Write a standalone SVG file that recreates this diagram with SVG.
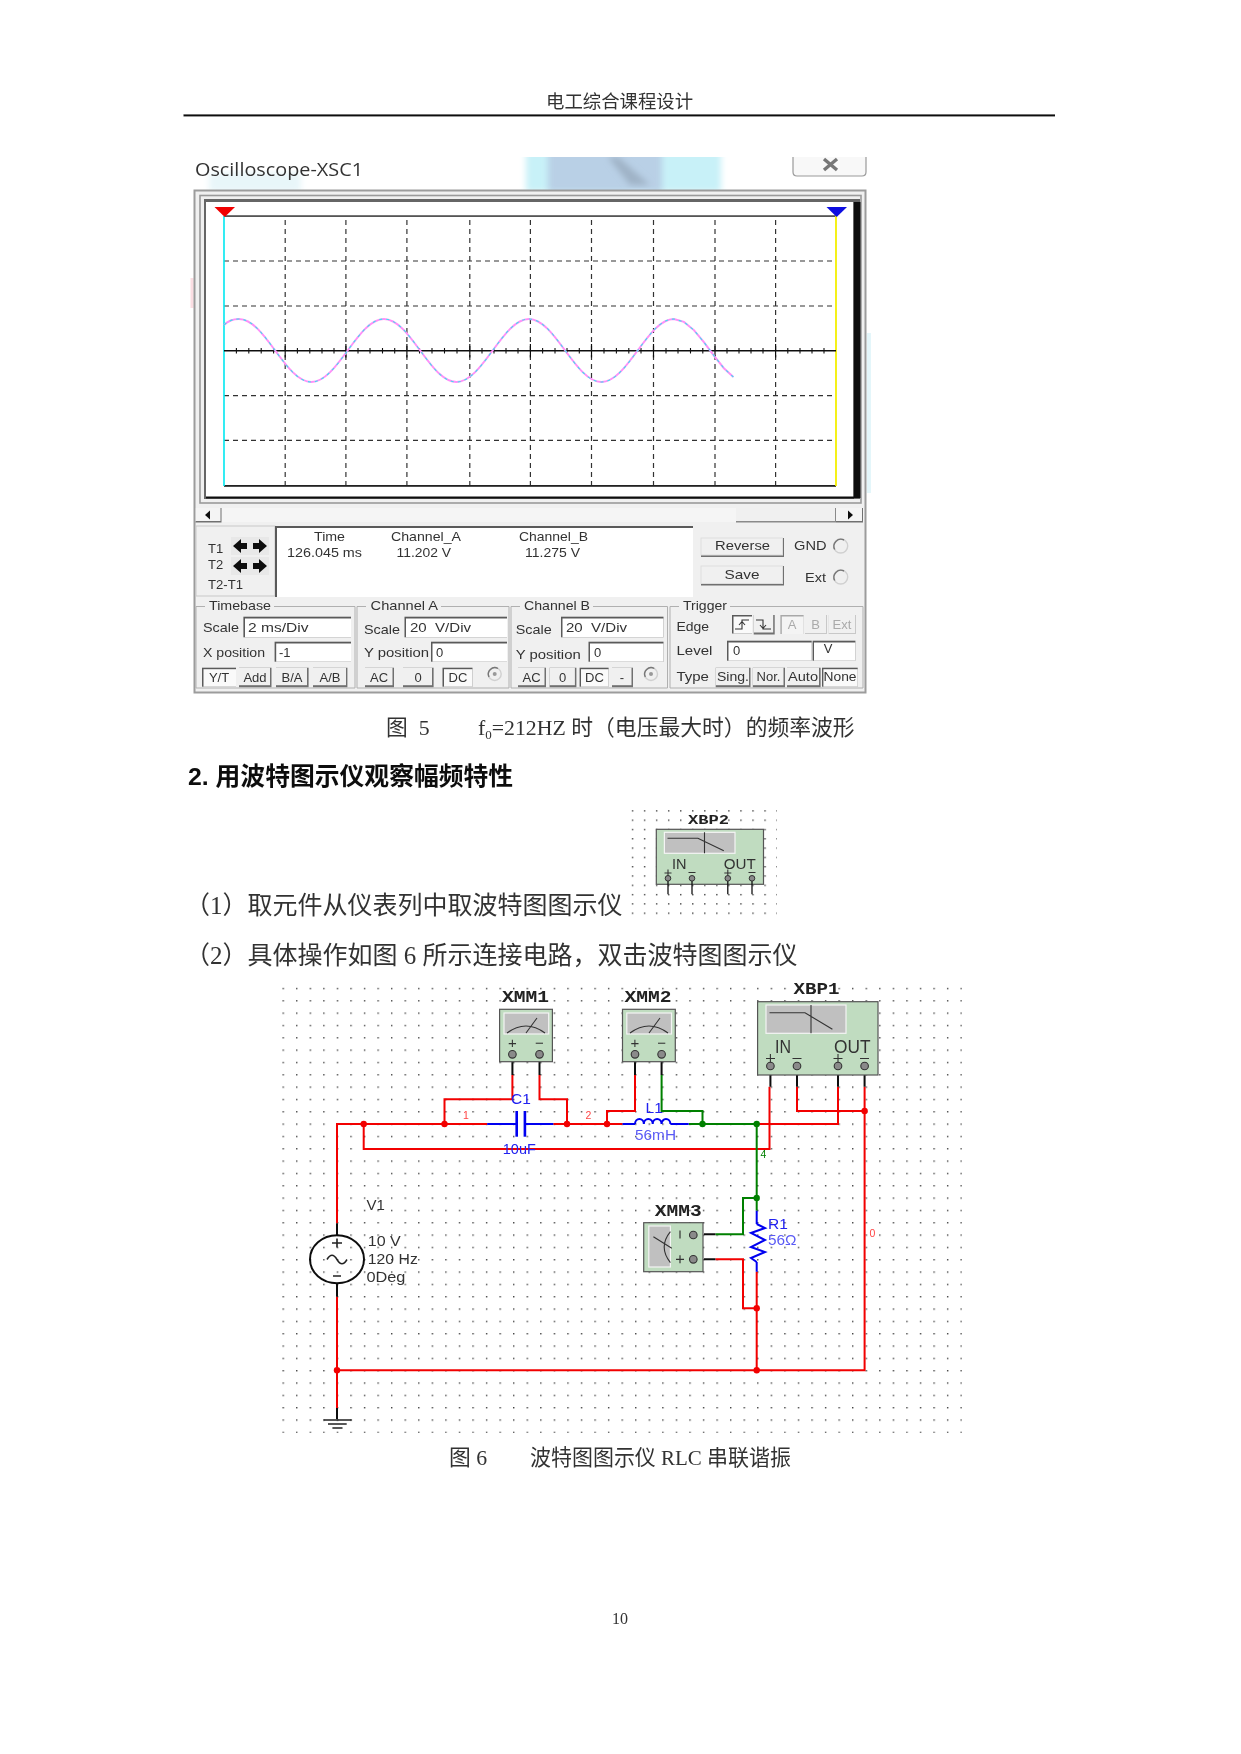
<svg xmlns="http://www.w3.org/2000/svg" xmlns:xlink="http://www.w3.org/1999/xlink" width="1241" height="1754" viewBox="0 0 1241 1754">
<style>
text{font-family:"Liberation Sans","Noto Sans CJK SC",sans-serif;fill:#2a2a2a}
.doc{font-family:"Liberation Serif","Noto Sans CJK SC",serif;fill:#333;font-size:21.8px}
.body{font-size:25px}
.head{font-family:"Liberation Sans","Noto Sans CJK SC",sans-serif;font-size:24.8px;font-weight:700;fill:#111}
.ui{font-size:13px;fill:#333}
.mid{text-anchor:middle}
.dim{fill:#aaa}
.ref{font-family:"Liberation Mono",monospace;font-weight:700;font-size:16px;fill:#222}
.lbl{font-size:15px;fill:#333}
.blue{font-size:15.5px;fill:#2020f0}
.lblue{font-size:15px;fill:#5a5af5}
.net{font-size:10.5px}
.shadow{fill:#707070}
.face{fill:#f0f0f0}
.sunk{fill:#5a5a5a}
.white{fill:#fff}
.group{fill:none;stroke:#b0b0b0;stroke-width:1}
.grid{stroke:#333;stroke-width:1.2;stroke-dasharray:5 4;fill:none}
.rw{fill:none;stroke:#f20000;stroke-width:2}
.gw{fill:none;stroke:#008000;stroke-width:2}
.bw{fill:none;stroke:#0000f0;stroke-width:2}
.kw{fill:none;stroke:#111;stroke-width:2}
.rj{fill:#f20000}
.gj{fill:#008000}
.inst{fill:#c0dcc0;stroke:#555;stroke-width:1.2}
.scr{fill:#c0c0c0;stroke:#f4f4f4;stroke-width:1.2}
.thin{fill:none;stroke:#333;stroke-width:1.1}
.radio{fill:none;stroke:#d0d0d0;stroke-width:1.4}
.arc{fill:none;stroke:#777;stroke-width:1.4}
</style>
<defs>
<filter id="soft" x="0" y="0" width="1" height="1"><feGaussianBlur stdDeviation="0.4"/></filter>
<filter id="haze" x="-10%" y="-10%" width="120%" height="120%"><feGaussianBlur stdDeviation="3"/></filter>
<clipPath id="bandclip"><rect x="190" y="157" width="680" height="33"/></clipPath>
<pattern id="dots" patternUnits="userSpaceOnUse" x="282.5" y="987.8" width="13.56" height="12.33"><rect width="1.4" height="1.4" fill="#444"/></pattern>
<pattern id="dots2" patternUnits="userSpaceOnUse" x="631.8" y="810.2" width="12.05" height="9.3"><rect width="1.4" height="1.4" fill="#444"/></pattern>
<g id="term"><circle r="3.8" fill="#8a8a8a" stroke="#333" stroke-width="1.1"/></g>
<g id="arrows"><path d="M2 9 10 2V6H16V12H10V16Z M36 9 28 2V6H22V12H28V16Z" fill="#111"/></g>
</defs>
<rect width="1241" height="1754" fill="#fff"/>
<g id="page" filter="url(#soft)">

<g id="header">
<text class="doc" x="546" y="108" style="font-size:18.4px">电工综合课程设计</text>
<rect x="183.500" y="114.400" width="871.500" height="2" fill="#111"/>
</g>

<g id="oscilloscope">
<g clip-path="url(#bandclip)">
<rect x="526" y="150" width="195" height="42" fill="#c8f1f8" filter="url(#haze)"/>
<rect x="548" y="150" width="114" height="42" fill="#b9d0e6" filter="url(#haze)"/>
<path d="M608 157 630 185 650 185 618 157Z" fill="#9fb2c6" filter="url(#haze)"/>
<rect x="209" y="172" width="92" height="20" fill="#e8f6f9" filter="url(#haze)"/>
</g>
<rect x="867" y="333" width="4" height="160" fill="#e4f6fa"/>
<rect x="190.500" y="278" width="3" height="30" fill="#fbdde2"/>
<text x="195" y="176" style="font-family:'Open Sans',sans-serif;font-size:18.5px;fill:#333" textLength="168" lengthAdjust="spacingAndGlyphs">Oscilloscope-XSC1</text>
<path d="M793 157V172Q793 176 797 176H862Q866 176 866 172V157" fill="#f8f8f8" stroke="#9a9a9a" stroke-width="1.200"/>
<path d="M824 159 837 170M837 159 824 170" stroke="#777" stroke-width="3.400" fill="none"/>

<rect x="194.500" y="190.500" width="671" height="502" fill="#f0f0f0" stroke="#9c9c9c" stroke-width="2"/>
<rect x="200" y="195.500" width="661" height="307.500" fill="#f0f0f0" stroke="#9a9a9a" stroke-width="1.600"/>
<rect x="204" y="199" width="656" height="300" fill="#666"/>
<rect x="206" y="202" width="647" height="295" fill="#fff"/>
<rect x="854" y="202" width="6.500" height="296" fill="#111"/>
<rect x="206" y="496.500" width="648" height="2" fill="#111"/>

<g id="plot">
<path class="grid" d="M285.200 220V486M345.900 220V486M406.900 220V486M469.800 220V486M530.400 220V486M591.500 220V486M653.500 220V486M715 220V486M775.600 220V486"/>
<path class="grid" d="M224 261H836M224 306H836M224 395.700H836M224 440.300H836"/>
<rect x="224" y="215.200" width="612" height="1.800" fill="#555"/>
<rect x="224" y="485" width="612" height="1.800" fill="#222"/>
<path d="M224 216V486" stroke="#00e8f0" stroke-width="1.600" fill="none"/>
<path d="M836 216V486" stroke="#f4f000" stroke-width="1.800" fill="none"/>
<path d="M214.500 207H235L224.700 217Z" fill="#f00000"/>
<path d="M826.500 207H847L836.700 217Z" fill="#1010e0"/>
<path d="M224 350.700H836" stroke="#111" stroke-width="1.500" fill="none"/>
<path d="M236.400 348V353.400M248.800 348V353.400M261.200 348V353.400M273.600 348V353.400M297.400 348V353.400M309.800 348V353.400M322 348V353.400M334 348V353.400M358 348V353.400M370 348V353.400M382.500 348V353.400M394.700 348V353.400M419.500 348V353.400M432 348V353.400M444.500 348V353.400M457 348V353.400M482 348V353.400M494 348V353.400M506 348V353.400M518 348V353.400M542.600 348V353.400M555 348V353.400M567 348V353.400M579.300 348V353.400M604 348V353.400M616.400 348V353.400M628.800 348V353.400M641 348V353.400M666 348V353.400M678 348V353.400M690.500 348V353.400M702.800 348V353.400M727 348V353.400M739 348V353.400M751 348V353.400M763 348V353.400M787.800 348V353.400M800 348V353.400M812 348V353.400M824 348V353.400" stroke="#111" stroke-width="1.100" fill="none"/>
<path d="M285.200 344V357.400M345.900 344V357.400M406.900 344V357.400M469.800 344V357.400M530.400 344V357.400M591.500 344V357.400M653.500 344V357.400M715 344V357.400M775.600 344V357.400" stroke="#111" stroke-width="1.200" fill="none"/>
<path id="wave" d="M224 325C228 321 233 319 238.900 319C265.300 319 285 382 311.400 382C337.800 382 357.500 319 383.900 319C410.300 319 430 382 456.400 382C482.800 382 502.500 319 528.900 319C555.300 319 575 382 601.400 382C627.800 382 647.500 319 673.900 319L683.900 321.900 693.900 330.100 703.900 342.100 713.900 355.600 723.900 368.200 733.400 377" fill="none" stroke="#ff90f8" stroke-width="2"/>
<path d="M224 325C228 321 233 319 238.900 319C265.300 319 285 382 311.400 382C337.800 382 357.500 319 383.900 319C410.300 319 430 382 456.400 382C482.800 382 502.500 319 528.900 319C555.300 319 575 382 601.400 382C627.800 382 647.500 319 673.900 319L683.900 321.900 693.900 330.100 703.900 342.100 713.900 355.600 723.900 368.200 733.400 377" fill="none" stroke="#40e0f0" stroke-width="1.100" stroke-dasharray="3 4"/>
</g>

<g id="scrollbar">
<rect x="195.500" y="508" width="668" height="14" fill="#f5f5f5"/>
<rect x="195.500" y="508" width="26" height="14.500" class="shadow"/><rect x="195.500" y="508" width="25" height="13" fill="#f4f4f4"/>
<path d="M205 515 210 510.500V519.500Z" fill="#111"/>
<rect x="736" y="508" width="100" height="14.500" fill="#8a8a8a"/><rect x="736" y="508" width="99" height="13" fill="#f0f0f0"/>
<rect x="836" y="508" width="27" height="14.500" class="shadow"/><rect x="836" y="508" width="26" height="13" fill="#f4f4f4"/>
<path d="M853 515 848 510.500V519.500Z" fill="#111"/>
</g>

<g id="cursors">
<rect x="196" y="526" width="79" height="70" fill="none" stroke="#c8c8c8"/>
<rect x="275" y="526" width="418" height="71" class="sunk"/><rect x="277" y="528" width="416" height="69" class="white"/>
<text class="ui" x="208" y="552.500">T1</text><text class="ui" x="208" y="569">T2</text><text class="ui" x="208" y="589" textLength="35" lengthAdjust="spacingAndGlyphs">T2-T1</text>
<rect x="231" y="537" width="38" height="18" fill="#e8e8e8"/><use xlink:href="#arrows" href="#arrows" x="231" y="537"/>
<rect x="231" y="557" width="38" height="18" fill="#e8e8e8"/><use xlink:href="#arrows" href="#arrows" x="231" y="557"/>
<text class="ui" x="314" y="541" textLength="31" lengthAdjust="spacingAndGlyphs">Time</text>
<text class="ui" x="391" y="541" textLength="70" lengthAdjust="spacingAndGlyphs">Channel_A</text>
<text class="ui" x="519" y="541" textLength="69" lengthAdjust="spacingAndGlyphs">Channel_B</text>
<text class="ui" x="287" y="557" textLength="75" lengthAdjust="spacingAndGlyphs">126.045 ms</text>
<text class="ui" x="396.500" y="557" textLength="54.500" lengthAdjust="spacingAndGlyphs">11.202 V</text>
<text class="ui" x="525" y="557" textLength="55" lengthAdjust="spacingAndGlyphs">11.275 V</text>
<rect x="701" y="538" width="83" height="19" class="shadow"/><rect x="701" y="538" width="81.500" height="17" class="face" stroke="#ddd"/>
<text class="ui" x="715" y="550" textLength="55" lengthAdjust="spacingAndGlyphs">Reverse</text>
<rect x="701" y="566" width="83" height="19.500" class="shadow"/><rect x="701" y="566" width="81.500" height="17.500" class="face" stroke="#ddd"/>
<text class="ui" x="724.600" y="578.500" textLength="35" lengthAdjust="spacingAndGlyphs">Save</text>
<text class="ui" x="794" y="550" textLength="32.500" lengthAdjust="spacingAndGlyphs">GND</text>
<circle class="radio" cx="840.700" cy="546" r="7"/><path class="arc" d="M834.700 549.500A7 7 0 0 1 844 540"/>
<text class="ui" x="805" y="581.500" textLength="21" lengthAdjust="spacingAndGlyphs">Ext</text>
<circle class="radio" cx="840.700" cy="577" r="7"/><path class="arc" d="M834.700 580.500A7 7 0 0 1 844 571"/>
</g>

<g id="timebase">
<path class="group" d="M205 606.500H196V688H355V606.500H274"/>
<text class="ui" x="209" y="610.400" textLength="62" lengthAdjust="spacingAndGlyphs">Timebase</text>
<text class="ui" x="203" y="631.500" textLength="36" lengthAdjust="spacingAndGlyphs">Scale</text>
<rect x="243.400" y="616.700" width="107.600" height="20.600" class="sunk"/><rect x="245" y="618.500" width="106" height="18.800" class="white"/>
<text class="ui" x="248" y="631.500" textLength="60.500" lengthAdjust="spacingAndGlyphs">2 ms/Div</text>
<text class="ui" x="203" y="656.500" textLength="62" lengthAdjust="spacingAndGlyphs">X position</text>
<rect x="274.600" y="641.700" width="76.400" height="20" class="sunk"/><rect x="276.200" y="643.500" width="74.800" height="18.200" class="white"/>
<text class="ui" x="279" y="656.500">-1</text>
<rect x="202" y="667.700" width="34" height="19" class="sunk"/><rect x="203.500" y="669.200" width="32.500" height="17.500" fill="#fafafa"/>
<text class="ui mid" x="219" y="681.500">Y/T</text>
<rect x="239" y="667.700" width="32.500" height="19.500" class="shadow"/><rect x="239" y="667.700" width="31" height="17.500" class="face"/>
<text class="ui mid" x="255" y="681.500">Add</text>
<rect x="276" y="667.700" width="32.600" height="19.500" class="shadow"/><rect x="276" y="667.700" width="31" height="17.500" class="face"/>
<text class="ui mid" x="292" y="681.500">B/A</text>
<rect x="313" y="667.700" width="34.400" height="19.500" class="shadow"/><rect x="313" y="667.700" width="33" height="17.500" class="face"/>
<text class="ui mid" x="330" y="681.500">A/B</text>
</g>

<g id="channel-a">
<path class="group" d="M366 606.500H357V688H509V606.500H441"/>
<text class="ui" x="370.600" y="610.400" textLength="67.500" lengthAdjust="spacingAndGlyphs">Channel A</text>
<text class="ui" x="364" y="634" textLength="36" lengthAdjust="spacingAndGlyphs">Scale</text>
<rect x="404.500" y="616.700" width="102.500" height="20.600" class="sunk"/><rect x="406" y="618.500" width="101" height="18.800" class="white"/>
<text class="ui" x="410" y="631.500" textLength="61" lengthAdjust="spacingAndGlyphs" xml:space="preserve">20  V/Div</text>
<text class="ui" x="364" y="656.500" textLength="65" lengthAdjust="spacingAndGlyphs">Y position</text>
<rect x="431" y="641.700" width="76" height="20" class="sunk"/><rect x="432.500" y="643.500" width="74.500" height="18.200" class="white"/>
<text class="ui" x="436" y="656.500">0</text>
<rect x="365" y="667.700" width="29" height="19.500" class="shadow"/><rect x="365" y="667.700" width="27.500" height="17.500" class="face"/>
<text class="ui mid" x="379" y="681.500">AC</text>
<rect x="403" y="667.700" width="30.600" height="19.500" class="shadow"/><rect x="403" y="667.700" width="29" height="17.500" class="face"/>
<text class="ui mid" x="418" y="681.500">0</text>
<rect x="442.500" y="667.700" width="30" height="19" class="sunk"/><rect x="444" y="669.200" width="28.500" height="17.500" fill="#fafafa"/>
<text class="ui mid" x="458" y="681.500">DC</text>
<circle class="radio" cx="494.700" cy="674" r="6.500"/><path class="arc" d="M489 677A6.500 6.500 0 0 1 498 668.500"/><circle cx="494.700" cy="674" r="2" fill="#999"/>
</g>

<g id="channel-b">
<path class="group" d="M520 606.500H511V688H667.500V606.500H593"/>
<text class="ui" x="524" y="610.400" textLength="66" lengthAdjust="spacingAndGlyphs">Channel B</text>
<text class="ui" x="515.700" y="634" textLength="36" lengthAdjust="spacingAndGlyphs">Scale</text>
<rect x="561" y="616.700" width="102.500" height="20.600" class="sunk"/><rect x="562.500" y="618.500" width="101" height="18.800" class="white"/>
<text class="ui" x="566" y="631.500" textLength="61" lengthAdjust="spacingAndGlyphs" xml:space="preserve">20  V/Div</text>
<text class="ui" x="515.700" y="659.300" textLength="65" lengthAdjust="spacingAndGlyphs">Y position</text>
<rect x="588.500" y="641.700" width="75" height="20" class="sunk"/><rect x="590" y="643.500" width="73.500" height="18.200" class="white"/>
<text class="ui" x="594" y="656.500">0</text>
<rect x="518" y="667.700" width="28" height="19.500" class="shadow"/><rect x="518" y="667.700" width="26.500" height="17.500" class="face"/>
<text class="ui mid" x="531.500" y="681.500">AC</text>
<rect x="549.600" y="667.700" width="26.800" height="19.500" class="shadow"/><rect x="549.600" y="667.700" width="25.300" height="17.500" class="face"/>
<text class="ui mid" x="562.500" y="681.500">0</text>
<rect x="579.600" y="667.700" width="29" height="19" class="sunk"/><rect x="581" y="669.200" width="27.600" height="17.500" fill="#fafafa"/>
<text class="ui mid" x="594.500" y="681.500">DC</text>
<rect x="612" y="667.700" width="21" height="19.500" class="shadow"/><rect x="612" y="667.700" width="19.500" height="17.500" class="face"/>
<text class="ui mid" x="622" y="681.500">-</text>
<circle class="radio" cx="651" cy="674" r="6.500"/><path class="arc" d="M645.300 677A6.500 6.500 0 0 1 654.300 668.500"/><circle cx="651" cy="674" r="2" fill="#999"/>
</g>

<g id="trigger">
<path class="group" d="M679 606.500H670V688H863V606.500H730"/>
<text class="ui" x="683" y="610.400" textLength="44" lengthAdjust="spacingAndGlyphs">Trigger</text>
<text class="ui" x="676.400" y="630.700" textLength="32.600" lengthAdjust="spacingAndGlyphs">Edge</text>
<rect x="732" y="615" width="20" height="18.500" class="sunk"/><rect x="733.500" y="616.500" width="18.500" height="17" fill="#fafafa"/>
<path d="M735 629H742V620H749M739 625 742 621.500 745 625" class="thin" stroke-width="1.500"/>
<rect x="753.700" y="615" width="21" height="19.500" class="shadow"/><rect x="753.700" y="615" width="19.500" height="17.500" class="face"/>
<path d="M756 620H763V629H771M760 625 763 628.500 766 625" class="thin"/>
<rect x="780.400" y="615" width="23.200" height="19" fill="#a8a8a8"/><rect x="781.800" y="616.500" width="21.800" height="17.500" fill="#f4f4f4"/>
<text class="ui mid dim" x="792" y="629">A</text>
<rect x="805" y="615" width="22" height="19" fill="#c8c8c8"/><rect x="805" y="615" width="21" height="18" class="face"/>
<text class="ui mid dim" x="815.500" y="629">B</text>
<rect x="828.600" y="615" width="27.400" height="19" fill="#c8c8c8"/><rect x="828.600" y="615" width="26.400" height="18" class="face"/>
<text class="ui mid dim" x="842" y="629">Ext</text>
<text class="ui" x="676.400" y="655" textLength="36" lengthAdjust="spacingAndGlyphs">Level</text>
<rect x="727" y="640.700" width="84.700" height="20" class="sunk"/><rect x="728.500" y="642.500" width="83.200" height="18.200" class="white"/>
<text class="ui" x="733" y="655">0</text>
<rect x="812.600" y="640.700" width="42.800" height="20" class="sunk"/><rect x="814" y="642.500" width="41.400" height="18.200" class="white"/>
<text class="ui mid" x="828" y="653">V</text>
<text class="ui" x="676.400" y="680.700" textLength="32.600" lengthAdjust="spacingAndGlyphs">Type</text>
<rect x="715.700" y="667.700" width="34.800" height="19.500" class="shadow"/><rect x="715.700" y="667.700" width="33.300" height="17.500" class="face"/>
<text class="ui mid" x="733" y="681" textLength="32" lengthAdjust="spacingAndGlyphs">Sing.</text>
<rect x="752.800" y="667.700" width="32.200" height="19.500" class="shadow"/><rect x="752.800" y="667.700" width="30.700" height="17.500" class="face"/>
<text class="ui mid" x="768.500" y="681">Nor.</text>
<rect x="787" y="667.700" width="33.600" height="19.500" class="shadow"/><rect x="787" y="667.700" width="32" height="17.500" class="face"/>
<text class="ui mid" x="803" y="681" textLength="30" lengthAdjust="spacingAndGlyphs">Auto</text>
<rect x="822" y="667.700" width="35.700" height="19" class="sunk"/><rect x="823.400" y="669.200" width="34.300" height="17.500" fill="#fafafa"/>
<text class="ui mid" x="840" y="681" textLength="33" lengthAdjust="spacingAndGlyphs">None</text>
</g>
</g>

<g id="caption-5">
<text class="doc" x="386" y="734.500" xml:space="preserve">图  5</text>
<text class="doc" x="478" y="734.500">f<tspan font-size="13" dy="4">0</tspan><tspan dy="-4">=212HZ 时（电压最大时）的频率波形</tspan></text>
</g>

<g id="section-text">
<text class="head" x="188" y="785">2. 用波特图示仪观察幅频特性</text>
<text class="doc body" x="185" y="914">（1）取元件从仪表列中取波特图图示仪</text>
<text class="doc body" x="185" y="964">（2）具体操作如图 6 所示连接电路，双击波特图图示仪</text>
</g>

<g id="XBP2">
<rect x="631" y="809.500" width="146" height="106" fill="url(#dots2)"/>
<text class="ref" x="688" y="824" style="font-size:13.500px" textLength="41" lengthAdjust="spacingAndGlyphs">XBP2</text>
<rect x="656.300" y="829.300" width="107.200" height="55" class="inst"/>
<rect class="scr" x="664.400" y="832.300" width="70.600" height="21"/>
<path class="thin" d="M667.500 838.300H697.900L723.800 850.700M704.500 832.300V853.300"/>
<text class="lbl" x="672" y="869.300" style="font-size:14.500px">IN</text>
<text class="lbl" x="723.800" y="869.300" style="font-size:14.500px" textLength="32" lengthAdjust="spacingAndGlyphs">OUT</text>
<path d="M668 878V894.300M692 878V894.300M727.800 878V894.300M752 878V894.300" stroke="#111" stroke-width="1.300" fill="none"/>
<path d="M664.500 873H671.500M668 869.500V876.500M688.500 872.500H695.500M724.300 873H731.300M727.800 869.500V876.500M748.500 872.500H755.500" stroke="#333" stroke-width="1.100" fill="none"/>
<circle cx="668" cy="878.300" r="2.800" fill="#8a8a8a" stroke="#333"/><circle cx="692" cy="878.300" r="2.800" fill="#8a8a8a" stroke="#333"/><circle cx="727.800" cy="878.300" r="2.800" fill="#8a8a8a" stroke="#333"/><circle cx="752" cy="878.300" r="2.800" fill="#8a8a8a" stroke="#333"/>
</g>

<g id="circuit-grid"><rect x="282" y="987" width="680" height="446" fill="url(#dots)"/></g>

<g id="connectors">
<path class="rw" d="M337 1223.300V1124H487.200M553.300 1124H622.600M444.500 1124V1099.300H512.400V1075M567 1124V1099.300H539.500V1075M607 1124V1111H635V1075M363.700 1124V1149H769.500V1086.700M756.700 1124H838V1086.700M797 1086.700V1111H864.600M864.600 1086.700V1370.300H337M337 1296.700V1408M756.700 1271.700V1370.300M715.400 1259.300H743V1308.300H756.700"/>
<path class="gw" d="M688.700 1124H756.700V1210.700M661.600 1075V1111H702.500V1124M756.700 1198H743V1234.300H715.400"/>
<path class="bw" d="M487.200 1124H516.600M524.800 1124H553.300M622.600 1124H635M670.400 1124H688.700M756.700 1210.700V1224M756.700 1262V1271.700"/>
<path class="kw" d="M512.400 1054V1075M539.500 1054V1075M635 1054V1075M661.600 1054V1075M770.400 1066V1086.700M797 1066V1086.700M838 1066V1086.700M864.600 1066V1086.700M704 1234.300H715.400M704 1259.300H715.400M337 1223.300V1236M337 1283V1296.700M337 1408V1419"/>
<g id="junctions">
<circle class="rj" cx="363.700" cy="1124" r="3.200"/><circle class="rj" cx="444.500" cy="1124" r="3.200"/><circle class="rj" cx="567" cy="1124" r="3.200"/><circle class="rj" cx="607" cy="1124" r="3.200"/><circle class="gj" cx="702.500" cy="1124" r="3.200"/><circle class="gj" cx="756.700" cy="1124" r="3.200"/><circle class="gj" cx="756.700" cy="1198" r="3.200"/><circle class="rj" cx="864.600" cy="1111" r="3.200"/><circle class="rj" cx="756.700" cy="1308.300" r="3.200"/><circle class="rj" cx="756.700" cy="1370.300" r="3.200"/><circle class="rj" cx="337" cy="1370.300" r="3.200"/>
</g>
<text class="net" x="463" y="1118.500" style="fill:#f44">1</text>
<text class="net" x="585.500" y="1118.500" style="fill:#f44">2</text>
<text class="net" x="760.500" y="1157.500" style="fill:#008000">4</text>
<text class="net" x="869.500" y="1237" style="fill:#f44">0</text>
</g>

<g id="XMM1">
<text class="ref" x="502" y="1002.300" textLength="47" lengthAdjust="spacingAndGlyphs">XMM1</text>
<rect class="inst" x="499.600" y="1009.300" width="52.800" height="52.400"/>
<rect class="scr" x="504" y="1013" width="44.700" height="21"/>
<path class="thin" d="M507 1033Q526 1019 545 1033M526 1033 537 1018"/>
<text class="lbl mid" x="512.400" y="1047.500">+</text><text class="lbl mid" x="539.500" y="1047.500">−</text>
<use xlink:href="#term" href="#term" x="512.400" y="1054.300"/><use xlink:href="#term" href="#term" x="539.500" y="1054.300"/>
</g>

<g id="XMM2">
<text class="ref" x="624.500" y="1002.300" textLength="47" lengthAdjust="spacingAndGlyphs">XMM2</text>
<rect class="inst" x="622.500" y="1009.300" width="52.800" height="52.400"/>
<rect class="scr" x="626.800" y="1013" width="44.700" height="21"/>
<path class="thin" d="M630 1033Q649 1019 668 1033M649 1033 660 1018"/>
<text class="lbl mid" x="635" y="1047.500">+</text><text class="lbl mid" x="661.600" y="1047.500">−</text>
<use xlink:href="#term" href="#term" x="635" y="1054.300"/><use xlink:href="#term" href="#term" x="661.600" y="1054.300"/>
</g>

<g id="XBP1">
<text class="ref" x="793.400" y="994" textLength="46" lengthAdjust="spacingAndGlyphs">XBP1</text>
<rect class="inst" x="757.600" y="1001.700" width="120.400" height="73.300"/>
<rect class="scr" x="766" y="1005" width="80" height="28.300"/>
<path class="thin" d="M769.500 1012.700H805L832.400 1029.300M811 1005V1033.300"/>
<text class="lbl" x="775" y="1053.300" style="font-size:18px" textLength="16" lengthAdjust="spacingAndGlyphs">IN</text>
<text class="lbl" x="834" y="1053.300" style="font-size:18px" textLength="36.500" lengthAdjust="spacingAndGlyphs">OUT</text>
<path d="M766 1058.500H775M770.400 1054V1063M792.500 1058.500H801.500M833.500 1058.500H842.500M838 1054V1063M860 1058.500H869" stroke="#333" stroke-width="1.100" fill="none"/>
<use xlink:href="#term" href="#term" x="770.400" y="1066"/><use xlink:href="#term" href="#term" x="797" y="1066"/><use xlink:href="#term" href="#term" x="838" y="1066"/><use xlink:href="#term" href="#term" x="864.600" y="1066"/>
</g>

<g id="C1">
<rect x="515.400" y="1111" width="2.600" height="25.700" fill="#0000f0"/><rect x="523.600" y="1111" width="2.600" height="25.700" fill="#0000f0"/>
<text class="blue" x="511" y="1104.300">C1</text>
<text class="blue" x="502.800" y="1154" textLength="33" lengthAdjust="spacingAndGlyphs">10uF</text>
</g>

<g id="L1">
<path class="bw" d="M635 1124a4.425 5 0 0 1 8.850 0a4.425 5 0 0 1 8.850 0a4.425 5 0 0 1 8.850 0a4.425 5 0 0 1 8.850 0" stroke-width="1.700"/>
<text class="blue" x="645.600" y="1112.700">L1</text>
<text class="lblue" x="635" y="1140" textLength="41" lengthAdjust="spacingAndGlyphs">56mH</text>
</g>

<g id="R1">
<path class="bw" d="M756.700 1224 765 1228 751 1233 765 1240 751 1247 765 1252 751 1258 756.700 1262" stroke-width="1.800"/>
<text class="blue" x="768" y="1229.300">R1</text>
<text class="lblue" x="768" y="1245" textLength="28.600" lengthAdjust="spacingAndGlyphs">56Ω</text>
</g>

<g id="XMM3">
<text class="ref" x="654.800" y="1216" textLength="46.800" lengthAdjust="spacingAndGlyphs">XMM3</text>
<rect class="inst" x="643.700" y="1222.700" width="59.300" height="49"/>
<rect class="scr" x="648.800" y="1226" width="21.600" height="41"/>
<path class="thin" d="M670.400 1231.700Q658 1247 670.400 1262.700M653.400 1236.700 671.800 1248.300"/>
<path d="M680 1230.500V1238.500M676 1259.300H684M680 1255.300V1263.300" stroke="#333" stroke-width="1.200" fill="none"/>
<use xlink:href="#term" href="#term" x="693.300" y="1235"/><use xlink:href="#term" href="#term" x="693.300" y="1259.300"/>
</g>

<g id="V1">
<ellipse cx="337" cy="1259.300" rx="27" ry="24" fill="none" stroke="#111" stroke-width="2"/>
<path d="M332 1243H342M337 1238.500V1247.500M333 1276H341" stroke="#222" stroke-width="1.600" fill="none"/>
<path d="M327 1259.500Q332 1251 337 1259.500T347 1259.500" fill="none" stroke="#222" stroke-width="1.500"/>
<text class="lbl" x="366.400" y="1210">V1</text>
<text class="lbl" x="367.800" y="1246" textLength="33" lengthAdjust="spacingAndGlyphs">10 V</text>
<text class="lbl" x="367.800" y="1264" textLength="50" lengthAdjust="spacingAndGlyphs">120 Hz</text>
<text class="lbl" x="366.400" y="1281.700" textLength="39" lengthAdjust="spacingAndGlyphs">0Deg</text>
</g>

<g id="ground"><path d="M323.700 1420H351.700M328 1424H346.700M332.400 1428H342.500" stroke="#222" stroke-width="1.600" fill="none"/></g>

<g id="caption-6">
<text class="doc" x="449" y="1464.500" xml:space="preserve">图 6</text>
<text class="doc" x="530" y="1464.500" textLength="261" lengthAdjust="spacingAndGlyphs">波特图图示仪 RLC 串联谐振</text>
</g>

<g id="page-number"><text class="doc" x="612" y="1624" style="font-size:16px">10</text></g>
</g>
</svg>
